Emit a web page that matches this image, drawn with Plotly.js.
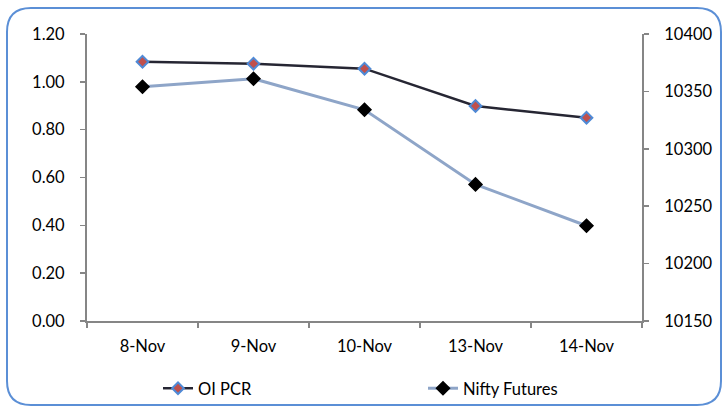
<!DOCTYPE html>
<html>
<head>
<meta charset="utf-8">
<script src="https://cdn.plot.ly/plotly-3.0.1.min.js"></script>
<style>html,body{margin:0;padding:0;background:#fff;}#chart{width:728px;height:411px;}</style>
</head>
<body>
<div id="chart"></div>
<script>
const categories = ["8-Nov", "9-Nov", "10-Nov", "13-Nov", "14-Nov"];
const oiPcr = [1.084, 1.076, 1.055, 0.899, 0.850];
const niftyFutures = [10354, 10361, 10334, 10269, 10233];
const leftTicks = [0, 0.2, 0.4, 0.6, 0.8, 1.0, 1.2];
const leftTickLabels = ["0.00", "0.20", "0.40", "0.60", "0.80", "1.00", "1.20"];
const rightTicks = [10150, 10200, 10250, 10300, 10350, 10400];

const W = 728, H = 411;
const M = {l: 87, r: 86, t: 34, b: 90, autoexpand: false};
const pw = W - M.l - M.r, ph = H - M.t - M.b;
function px(x) { return (x - M.l) / pw; }
function py(y) { return (H - M.b - y) / ph; }

// rounded border path in paper coords
const bx0 = 7, bx1 = 721, by0 = 8, by1 = 405, r = 24;
function P(x, y) { return px(x).toFixed(5) + "," + py(y).toFixed(5); }
const borderPath =
  "M" + P(bx0 + r, by0) + " L" + P(bx1 - r, by0) +
  " Q" + P(bx1, by0) + " " + P(bx1, by0 + r) +
  " L" + P(bx1, by1 - r) +
  " Q" + P(bx1, by1) + " " + P(bx1 - r, by1) +
  " L" + P(bx0 + r, by1) +
  " Q" + P(bx0, by1) + " " + P(bx0, by1 - r) +
  " L" + P(bx0, by0 + r) +
  " Q" + P(bx0, by0) + " " + P(bx0 + r, by0) + " Z";

const font = {family: "Lato, 'Open Sans', sans-serif", size: 16.5, color: "#000"};

const traces = [
  {
    x: categories, y: oiPcr, name: "OI PCR", type: "scatter", mode: "lines+markers",
    line: {color: "#262633", width: 2.5},
    marker: {symbol: "diamond", size: 9, color: "#c0504d", line: {color: "#4f8ad6", width: 2}},
    yaxis: "y"
  },
  {
    x: categories, y: niftyFutures, name: "Nifty Futures", type: "scatter", mode: "lines+markers",
    line: {color: "#8ea5c8", width: 3},
    marker: {symbol: "diamond", size: 10, color: "#000", line: {color: "#000", width: 1.5}},
    yaxis: "y2"
  }
];

const axisCommon = {
  showgrid: false, zeroline: false, showline: true, linecolor: "#868686", linewidth: 2,
  ticks: "outside", ticklen: 5, tickcolor: "#868686", tickwidth: 1.5, tickfont: font
};

const layout = {
  width: W, height: H,
  margin: M,
  paper_bgcolor: "#fff", plot_bgcolor: "#fff",
  showlegend: true,
  legend: {
    orientation: "h", x: px(158), xanchor: "left", y: py(371), yanchor: "top",
    font: font, entrywidth: 220, entrywidthmode: "pixels", bgcolor: "rgba(0,0,0,0)"
  },
  xaxis: Object.assign({}, axisCommon, {
    type: "category", tickson: "boundaries", range: [-0.5, 4.5], ticklabelstandoff: 9
  }),
  yaxis: Object.assign({}, axisCommon, {
    range: [0, 1.2], tickvals: leftTicks, ticktext: leftTickLabels, ticklabelstandoff: 12
  }),
  yaxis2: Object.assign({}, axisCommon, {
    overlaying: "y", side: "right", range: [10150, 10400], tickvals: rightTicks,
    tickformat: "d", ticklabelstandoff: 12
  }),
  shapes: [{
    type: "path", xref: "paper", yref: "paper", path: borderPath,
    line: {color: "#5b8fd6", width: 2}, fillcolor: "rgba(0,0,0,0)", layer: "below"
  }]
};

Plotly.newPlot("chart", traces, layout, {displayModeBar: false, staticPlot: true});
</script>
</body>
</html>
